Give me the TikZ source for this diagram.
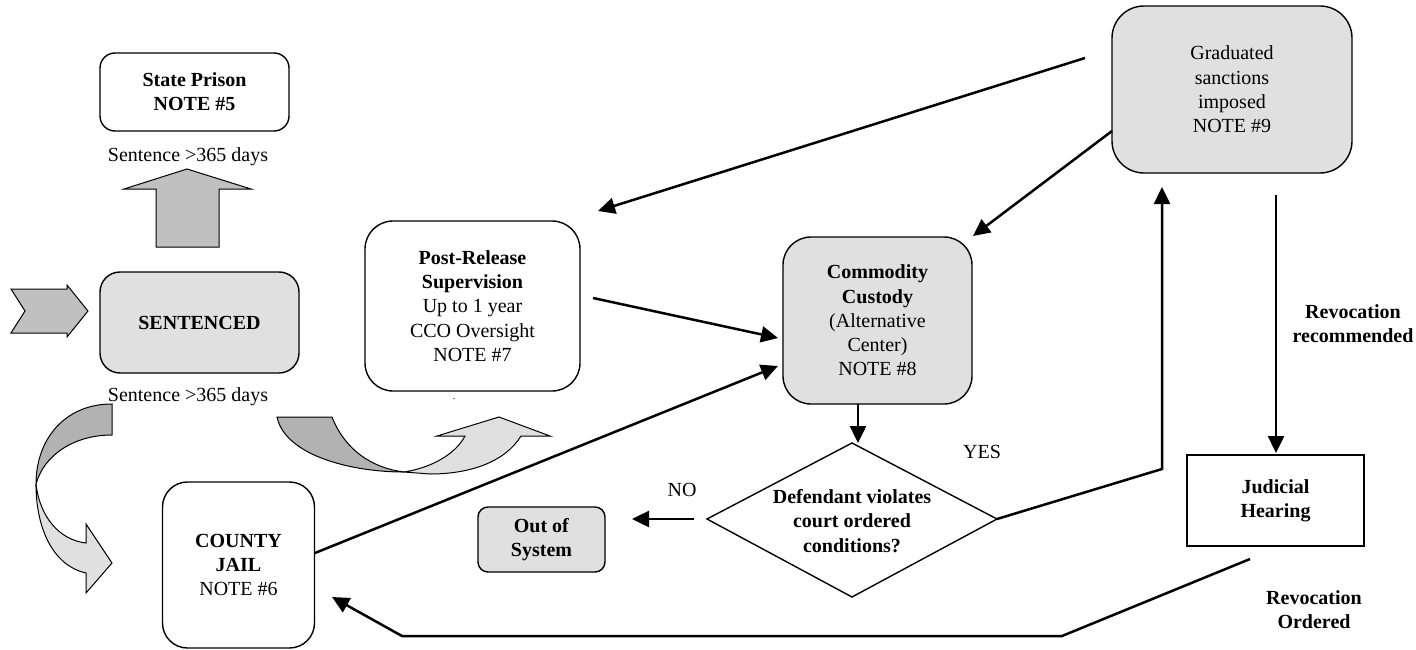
\documentclass[tikz,border=0pt]{standalone}
\usepackage{fontspec}
\setmainfont{Liberation Serif}
\usetikzlibrary{arrows.meta}
\definecolor{lightg}{HTML}{E0E0E0}
\definecolor{darkg}{HTML}{B2B2B2}
\definecolor{midg}{HTML}{C0C0C0}
\tikzset{
  txt/.style={font=\fontsize{20}{24.3}\selectfont, align=center, inner sep=0pt},
  rbox/.style={draw=black, line width=1.4pt, rounded corners=#1, txt},
  rbox/.default=20pt,
  conn/.style={line width=2.5pt, line join=miter, -{Triangle[length=17pt,width=16pt]}},
  blockarr/.style={draw=black, line width=1pt, line join=miter},
}
\begin{document}
\begin{tikzpicture}[x=1pt,y=-1pt]
\useasboundingbox (0,0) rectangle (1416,650);

% ---- boxes ----
\node[rbox=15pt, minimum width=189pt, minimum height=78pt] (prison) at (194.5,92) {\textbf{State Prison}\\\textbf{NOTE \#5}};
\node[rbox=20pt, fill=lightg, minimum width=199pt, minimum height=101pt] (sentenced) at (199.5,322.5) {\textbf{SENTENCED}};
\node[rbox=28pt, minimum width=215pt, minimum height=170pt] (post) at (472.5,306) {\textbf{Post-Release}\\\textbf{Supervision}\\Up to 1 year\\CCO Oversight\\NOTE \#7};
\node[rbox=28pt, fill=lightg, minimum width=189pt, minimum height=167pt] (commodity) at (877.5,320.5) {\textbf{Commodity}\\\textbf{Custody}\\(Alternative\\Center)\\NOTE \#8};
\node[rbox=32pt, fill=lightg, minimum width=240pt, minimum height=167pt] (graduated) at (1232,89.5) {Graduated\\sanctions\\imposed\\NOTE \#9};
\node[rbox=25pt, minimum width=152pt, minimum height=166pt] (county) at (238.5,565) {\textbf{COUNTY}\\\textbf{JAIL}\\NOTE \#6};
\node[rbox=10pt, fill=lightg, minimum width=127pt, minimum height=65pt] (outsys) at (541.5,539.5) {\textbf{Out of}\\\textbf{System}};
\node[draw=black, line width=1.4pt, txt, minimum width=177pt, minimum height=91pt] (judicial) at (1275.5,500.5) {\textbf{Judicial}\\\textbf{Hearing}};

% ---- decision diamond ----
\coordinate (dtop) at (852,443);
\coordinate (dleft) at (707,519);
\coordinate (dright) at (997,519);
\coordinate (dbot) at (852,597);
\draw[line width=1.4pt, line join=miter] (dtop) -- (dright) -- (dbot) -- (dleft) -- cycle;
\node[txt] (dia) at (852,521) {\textbf{Defendant violates}\\\textbf{court ordered}\\\textbf{conditions?}};

% ---- free texts ----
\node[txt] (s1) at (188,157) {Sentence >365 days};
\node[txt] (s2) at (188,397) {Sentence >365 days};
\node[txt, font=\fontsize{10}{12}\selectfont] (dot) at (454,399) {.};
\node[txt] (no) at (682,490) {NO};
\node[txt] (yes) at (982,452) {YES};
\node[txt] (revrec) at (1353,324) {\textbf{Revocation}\\\textbf{recommended}};
\node[txt] (revord) at (1314,610) {\textbf{Revocation}\\\textbf{Ordered}};

% ---- block arrows ----
% up arrow to state prison
\draw[blockarr, fill=midg] (156,247) -- (156,189) -- (124,189) -- (187,169) -- (251,189) -- (219,189) -- (219,247) -- cycle;
% chevron into SENTENCED
\draw[blockarr, fill=midg] (11,289) -- (67,289) -- (67,285) -- (88,311) -- (67,337) -- (67,333) -- (11,333) -- (25,311) -- cycle;
% curved arrow down to county jail
\draw[blockarr, fill=darkg] (112,404) .. controls (64,404) and (36,440) .. (36,484) .. controls (44,455) and (74,435) .. (112,435) -- cycle;
\draw[blockarr, fill=lightg] (36,484) .. controls (40,518) and (60,540) .. (86,543) -- (86,524) -- (112,563) -- (86,593) -- (86,573) .. controls (54,566) and (36,530) .. (36,484) -- cycle;
% curved arrow to post-release
\draw[blockarr, fill=darkg] (277,417) -- (332,417) .. controls (345,450) and (372,468) .. (404,472) .. controls (350,472) and (285,455) .. (277,417) -- cycle;
\draw[blockarr, fill=lightg] (404,472) .. controls (430,468) and (455,455) .. (465,436) -- (437,436) -- (499,417) -- (550,436) -- (521,436) .. controls (505,462) and (470,474) .. (430,474) -- (404,472) -- cycle;

% ---- connectors ----
\coordinate (g1) at (1085,58);
\coordinate (p1) at (598,211);
\draw[conn] (g1) -- (p1);
\coordinate (g2) at (1112,131);
\coordinate (c1) at (973,236);
\draw[conn] (g2) -- (c1);
\coordinate (p2) at (593,298);
\coordinate (c2) at (778,338);
\draw[conn] (p2) -- (c2);
\coordinate (j1) at (315,553);
\coordinate (c3) at (778,366);
\draw[conn] (j1) -- (c3);
\coordinate (c4) at (858,404);
\coordinate (d1) at (858,443);
\draw[conn] (c4) -- (d1);
\coordinate (d2) at (694,519);
\coordinate (o1) at (632,519);
\draw[conn] (d2) -- (o1);
\coordinate (yb) at (1162,469);
\coordinate (g3) at (1162,187);
\draw[conn] (dright) -- (yb) -- (g3);
\coordinate (g4) at (1276,195);
\coordinate (h1) at (1276,453);
\draw[conn] (g4) -- (h1);
\coordinate (h2) at (1250,559);
\coordinate (r1) at (1062,636);
\coordinate (r2) at (402,636);
\coordinate (j2) at (332,597);
\draw[conn] (h2) -- (r1) -- (r2) -- (j2);
\end{tikzpicture}
\end{document}
